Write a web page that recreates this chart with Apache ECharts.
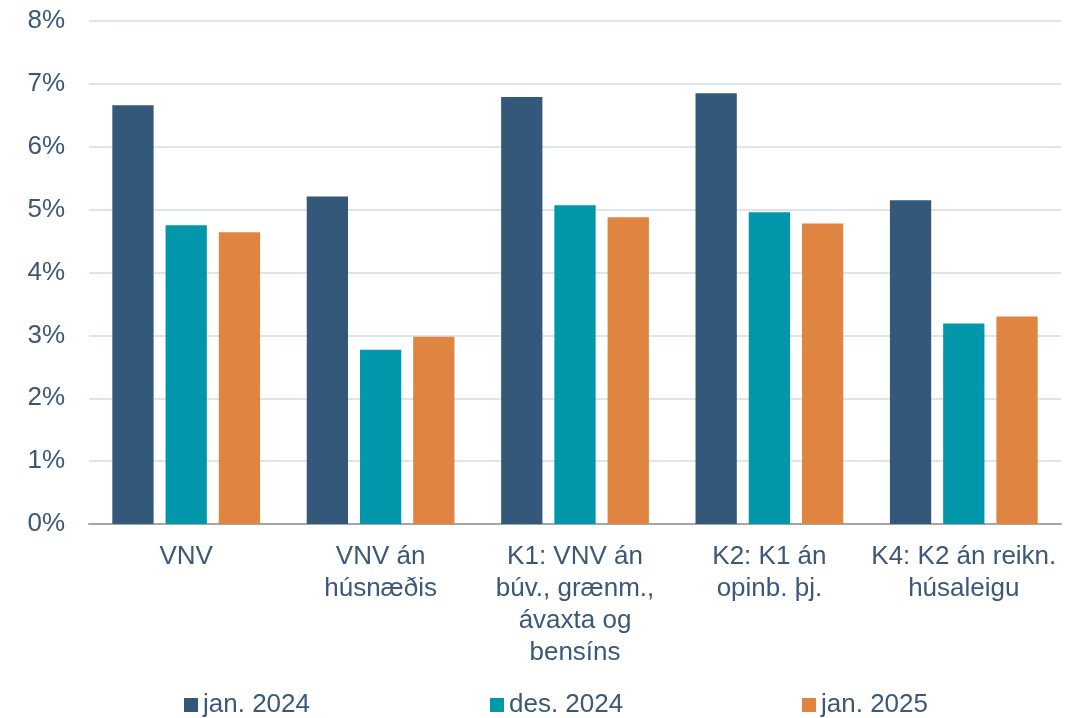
<!DOCTYPE html>
<html>
<head>
<meta charset="utf-8">
<script src="https://cdn.jsdelivr.net/npm/echarts@6/dist/echarts.min.js"></script>
<style>html,body{margin:0;padding:0;background:#fff}#c{width:1076px;height:718px}</style>
</head>
<body>
<div id="c"></div>
<script>
const categories = ["VNV", "VNV án\nhúsnæðis", "K1: VNV án\nbúv., grænm.,\návaxta og\nbensíns", "K2: K1 án\nopinb. þj.", "K4: K2 án reikn.\nhúsaleigu"];
const seriesNames = ["jan. 2024", "des. 2024", "jan. 2025"];
const jan2024 = [6.66, 5.21, 6.79, 6.85, 5.15];
const des2024 = [4.75, 2.77, 5.07, 4.96, 3.19];
const jan2025 = [4.64, 2.98, 4.88, 4.78, 3.30];
const colors = ["#34587A", "#0097AA", "#E08442"];
const textColor = "#3B5878";
const font = "'Liberation Sans', Arial, sans-serif";

const chart = echarts.init(document.getElementById('c'), null, {renderer: 'canvas'});
const legendLefts = [184, 490, 802];
chart.setOption({
  animation: false,
  color: colors,
  grid: {left: 89, right: 15, top: 21, bottom: 194, containLabel: false},
  legend: seriesNames.map((n, i) => ({
    data: [n], left: legendLefts[i], top: 692, padding: 0, itemWidth: 14, itemHeight: 14, itemGap: 0,
    icon: 'rect',
    textStyle: {color: textColor, fontSize: 26, fontFamily: font, padding: [0, 0, 0, 0]}
  })),
  xAxis: {
    type: 'category', data: categories,
    axisLine: {lineStyle: {color: '#A6A6A6', width: 2}},
    axisTick: {show: false},
    axisLabel: {color: textColor, fontSize: 26, fontFamily: font, lineHeight: 32, margin: 17, interval: 0, align: 'center'}
  },
  yAxis: {
    type: 'value', min: 0, max: 8, interval: 1,
    axisLabel: {formatter: '{value}%', color: textColor, fontSize: 26, fontFamily: font, margin: 24},
    splitLine: {lineStyle: {color: '#DCE5EE', width: 2}},
    axisLine: {show: false}, axisTick: {show: false}
  },
  series: [jan2024, des2024, jan2025].map((d, i) => ({
    name: seriesNames[i], type: 'bar', data: d,
    barGap: '29%', barCategoryGap: '24%',
    itemStyle: {color: colors[i]}
  }))
});
</script>
</body>
</html>
